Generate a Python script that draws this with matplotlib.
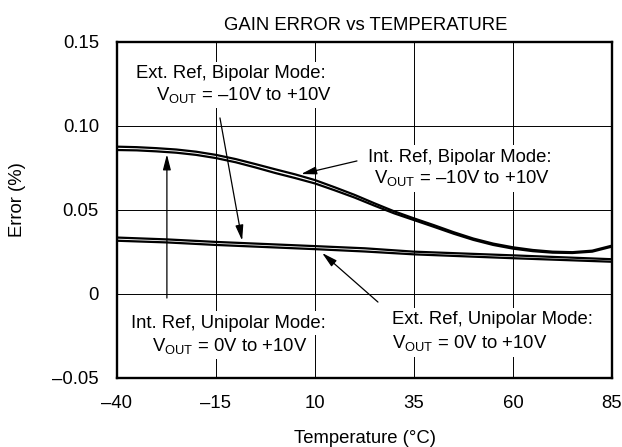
#!/usr/bin/env python3
"""
Gain error vs temperature (datasheet style chart)
"""

import matplotlib
matplotlib.use('Agg')
import matplotlib.pyplot as plt
from matplotlib import rcParams

rcParams['font.family'] = ['Liberation Sans', 'DejaVu Sans']
rcParams['mathtext.fontset'] = 'custom'
rcParams['mathtext.rm'] = 'Liberation Sans'
rcParams['font.size'] = 13.3

# --- data ---
temp_bip = [-40, -35, -30, -25, -20, -15, -10, -5, 0, 5, 10, 15, 20, 25, 30,
            35, 40, 45, 50, 55, 60, 65, 70, 75, 80, 85]
ext_bipolar = [0.0877, 0.0874, 0.0868, 0.0860, 0.0847, 0.0828, 0.0803, 0.0773,
               0.0742, 0.0712, 0.0678, 0.0635, 0.0590, 0.0540, 0.0492, 0.0450,
               0.0410, 0.0368, 0.0330, 0.0300, 0.0278, 0.0262, 0.0252, 0.0249,
               0.0258, 0.0288]
int_bipolar = [0.0857, 0.0855, 0.0849, 0.0841, 0.0828, 0.0809, 0.0784, 0.0753,
               0.0720, 0.0690, 0.0658, 0.0617, 0.0574, 0.0526, 0.0480, 0.0440,
               0.0400, 0.0359, 0.0322, 0.0292, 0.0270, 0.0255, 0.0246, 0.0244,
               0.0252, 0.0282]

temp_uni = [-40, -27.4, -15, 10, 22.6, 35, 60, 85]
ext_unipolar = [0.0336, 0.0325, 0.0310, 0.0285, 0.0272, 0.0252, 0.0230, 0.0207]
int_unipolar = [0.0317, 0.0307, 0.0292, 0.0267, 0.0253, 0.0236, 0.0213, 0.0192]

x_ticks = [-40, -15, 10, 35, 60, 85]
x_labels = ['\u201340', '\u201315', '10', '35', '60', '85']
y_ticks = [-0.05, 0, 0.05, 0.10, 0.15]
y_labels = ['\u20130.05', '0', '0.05', '0.10', '0.15']

DASH = '\u2013'
VOUT = r'V$_{\mathregular{OUT}}$'

W, H = 622, 447
fig = plt.figure(figsize=(W / 100, H / 100), dpi=100)
ax = fig.add_axes([117 / W, 1 - 378 / H, 495 / W, 336 / H])

for ys in (ext_bipolar, int_bipolar):
    ax.plot(temp_bip, ys, color='black', lw=1.6, zorder=3, solid_joinstyle='round')
for ys in (ext_unipolar, int_unipolar):
    ax.plot(temp_uni, ys, color='black', lw=1.6, zorder=3, solid_joinstyle='round')

ax.set_xlim(-40, 85)
ax.set_ylim(-0.05, 0.15)
ax.set_xticks(x_ticks, x_labels)
ax.set_yticks(y_ticks, y_labels)
ax.tick_params(length=0)
ax.tick_params(axis='x', pad=12)
ax.tick_params(axis='y', pad=13)
ax.grid(True, color='black', lw=0.7, zorder=1)
ax.set_axisbelow(True)
for sp in ax.spines.values():
    sp.set_linewidth(1.7)
    sp.set_zorder(5)

box = dict(facecolor='white', edgecolor='none', pad=2.5)
arrow = dict(arrowstyle='-|>,head_length=0.7,head_width=0.18', color='black',
             lw=0.9, shrinkA=0, shrinkB=0)

# Ext. Ref, Bipolar
ax.text(-11.2, 0.1284, 'Ext. Ref, Bipolar Mode:', ha='center', va='baseline', bbox=box, zorder=4)
ax.text(-7.9, 0.1155, VOUT + ' = ' + DASH + '10V to +10V', ha='center', va='baseline', bbox=box, zorder=4)
ax.annotate('', xy=(-8.4, 0.0318), xytext=(-14.0, 0.1048), arrowprops=arrow, zorder=4)

# Int. Ref, Bipolar
ax.text(46.5, 0.0788, 'Int. Ref, Bipolar Mode:', ha='center', va='baseline', bbox=box, zorder=4)
ax.text(47.2, 0.0659, VOUT + ' = ' + DASH + '10V to +10V', ha='center', va='baseline', bbox=box, zorder=4)
ax.annotate('', xy=(6.5, 0.0714), xytext=(20.6, 0.0792), arrowprops=arrow, zorder=4)

# Int. Ref, Unipolar
ax.text(-11.8, -0.0201, 'Int. Ref, Unipolar Mode:', ha='center', va='baseline', bbox=box, zorder=4)
ax.text(-11.5, -0.0338, VOUT + ' = 0V to +10V', ha='center', va='baseline', bbox=box, zorder=4)
ax.annotate('', xy=(-27.4, 0.0831), xytext=(-27.4, -0.0024), arrowprops=arrow, zorder=4)

# Ext. Ref, Unipolar
ax.text(29.4, -0.0179, 'Ext. Ref, Unipolar Mode:', ha='left', va='baseline', bbox=box, zorder=4)
ax.text(29.4, -0.0323, VOUT + ' = 0V to +10V', ha='left', va='baseline', bbox=box, zorder=4)
ax.annotate('', xy=(11.8, 0.0244), xytext=(25.9, -0.0048), arrowprops=arrow, zorder=4)

fig.text(366 / W, 1 - 30 / H, 'GAIN ERROR vs TEMPERATURE', ha='center', va='baseline')
fig.text(365 / W, 1 - 443 / H, 'Temperature (\u00b0C)', ha='center', va='baseline')
fig.text(17 / W, 1 - 200 / H, 'Error (%)', rotation=90, ha='center', va='center')

fig.savefig('out.png', dpi=100, facecolor='white')
